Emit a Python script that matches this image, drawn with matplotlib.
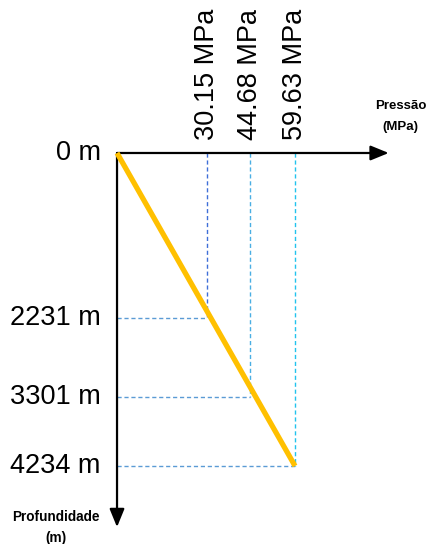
import matplotlib
matplotlib.use('Agg')
import matplotlib.pyplot as plt

pressures = [30.15, 44.68, 59.63]
depths = [2231, 3301, 4234]
pressure_labels = ['30.15 MPa', '44.68 MPa', '59.63 MPa']
depth_labels = ['0 m', '2231 m', '3301 m', '4234 m']
vline_colors = ['#3F6FD8', '#4AAEE3', '#22C3EE']

plt.rcParams['font.family'] = ['Liberation Sans', 'DejaVu Sans']

fig = plt.figure(figsize=(4.26, 5.44), dpi=100)
ax = fig.add_axes([0, 0, 1, 1])
ax.set_xlim(-39.2, 103.5)
ax.set_ylim(5289, -2069.5)
ax.axis('off')

# axes arrows
ax.annotate('', xy=(91.0, 0), xytext=(0, 0),
            arrowprops=dict(arrowstyle='-|>,head_length=1.1,head_width=0.45', color='black', lw=1.6,
                            shrinkA=0, shrinkB=0))
ax.annotate('', xy=(0, 5060), xytext=(0, 0),
            arrowprops=dict(arrowstyle='-|>,head_length=1.1,head_width=0.45', color='black', lw=1.6,
                            shrinkA=0, shrinkB=0))

# guide lines
for p, d, c in zip(pressures, depths, vline_colors):
    ax.plot([p, p], [0, d], ls=(0, (3, 2)), color=c, lw=1.0, zorder=1)
    ax.plot([0, p], [d, d], ls=(0, (3, 2)), color='#5B9BD5', lw=1.0, zorder=1)

# pressure line
ax.plot([0, pressures[-1]], [0, depths[-1]], color='#FFC000', lw=3.8, solid_capstyle='butt', zorder=3)

# labels
for p, lab in zip(pressures, pressure_labels):
    ax.text(p, -180, lab, rotation=90, ha='center', va='bottom', fontsize=19.5)
for d, lab in zip([0] + depths, depth_labels):
    ax.text(-5.5, d, lab, ha='right', va='center', fontsize=19.5)

ax.text(95, -490, 'Pressão\n(MPa)', ha='center', va='center', fontsize=9.5,
        fontweight='bold', linespacing=2.0)
ax.text(-20.4, 5064, 'Profundidade\n(m)', ha='center', va='center', fontsize=9.8,
        fontweight='bold', linespacing=1.6)

fig.savefig('out.png', dpi=100)
